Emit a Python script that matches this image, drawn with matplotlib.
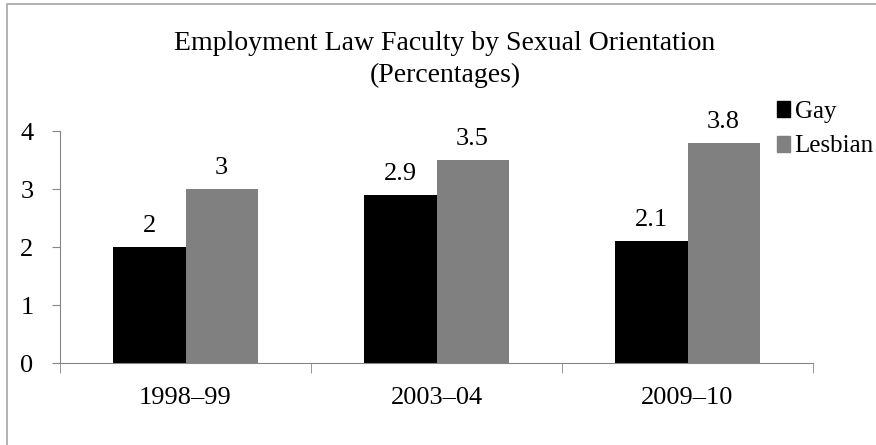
import numpy as np
from matplotlib import pyplot as plt
from matplotlib.patches import Patch, Rectangle

# data
periods = ["1998\u201399", "2003\u201304", "2009\u201310"]
gay = [2.0, 2.9, 2.1]
lesbian = [3.0, 3.5, 3.8]
value_labels_gay = ["2", "2.9", "2.1"]
value_labels_lesbian = ["3", "3.5", "3.8"]

plt.rcParams['font.family'] = ['Liberation Serif', 'DejaVu Serif']

fig = plt.figure(figsize=(8.76, 4.45), dpi=100)
ax = fig.add_axes([60 / 876, 1 - 363 / 445, (813 - 60) / 876, (363 - 131) / 445])

# outer frame
fig.patches.append(Rectangle((7 / 876, -0.1), 1.2, 1 - 4 / 445 + 0.1, transform=fig.transFigure,
                             fill=False, edgecolor="#a6a6a6", linewidth=1.2))

x = np.arange(len(periods))
w = 0.287
b1 = ax.bar(x - w / 2, gay, w, color="black", label="Gay")
b2 = ax.bar(x + w / 2, lesbian, w, color="#808080", label="Lesbian")

for rect, txt in zip(b1, value_labels_gay):
    ax.annotate(txt, (rect.get_x() + rect.get_width() / 2, rect.get_height()),
                xytext=(0, 7), textcoords="offset points", ha="center", va="bottom", fontsize=19)
for rect, txt in zip(b2, value_labels_lesbian):
    ax.annotate(txt, (rect.get_x() + rect.get_width() / 2, rect.get_height()),
                xytext=(0, 7), textcoords="offset points", ha="center", va="bottom", fontsize=19)

ax.set_xlim(-0.5, 2.5)
ax.set_ylim(0, 4)
ax.set_yticks([0, 1, 2, 3, 4])
ax.set_xticks(x)
ax.set_xticklabels(periods, fontsize=19)
ax.set_xticks([-0.5, 0.5, 1.5, 2.5], minor=True)
ax.tick_params(axis="x", which="major", length=0, pad=17)
ax.tick_params(axis="x", which="minor", length=7, color="#868686", direction="out")
ax.tick_params(axis="y", length=6, color="#868686", labelsize=19, pad=13)

for s in ["top", "right"]:
    ax.spines[s].set_visible(False)
for s in ["left", "bottom"]:
    ax.spines[s].set_color("#868686")

fig.text(445 / 876, 1 - 43 / 445, "Employment Law Faculty by Sexual Orientation",
         ha="center", va="center", fontsize=20)
fig.text(445 / 876, 1 - 75 / 445, "(Percentages)", ha="center", va="center", fontsize=20)

handles = [Patch(color="black", label="Gay"), Patch(color="#808080", label="Lesbian")]
fig.legend(handles=handles, loc="upper left", bbox_to_anchor=(777 / 876, 1 - 101 / 445),
           frameon=False, fontsize=18, handlelength=0.5, handleheight=0.6,
           handletextpad=0.2, labelspacing=0.5, borderpad=0, borderaxespad=0)

plt.savefig("out.png", dpi=100)
